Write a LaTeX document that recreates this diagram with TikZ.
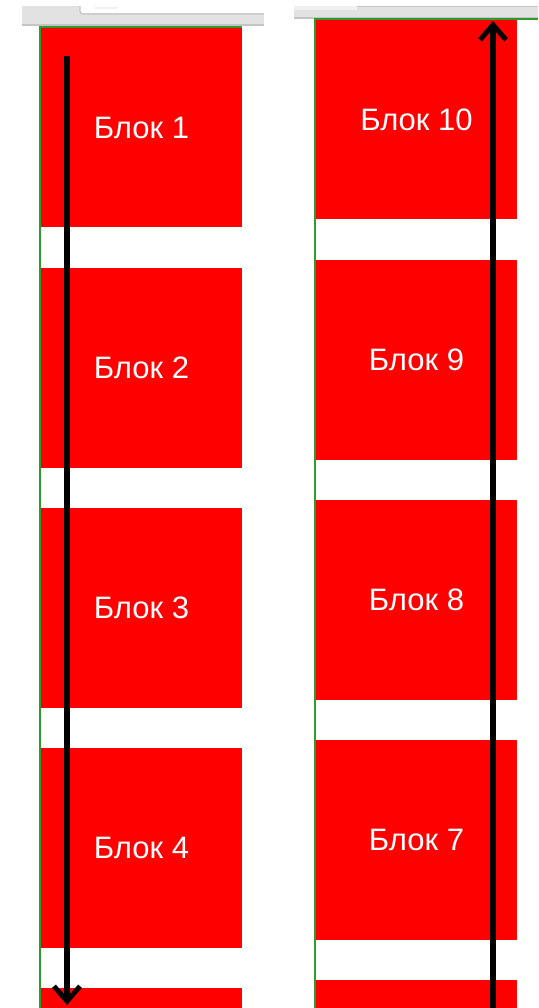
\documentclass[tikz,border=0pt]{standalone}
\usepackage{fontspec}
\setmainfont{Liberation Sans}
\usetikzlibrary{arrows.meta}
\definecolor{BlockRed}{HTML}{FF0000}
\definecolor{FrameGreen}{HTML}{2E9B2E}
\definecolor{BarGray}{HTML}{E2E2E2}
\definecolor{BarEdge}{HTML}{C4C4C4}
\definecolor{BarLight}{HTML}{F0F0F0}

\tikzset{
    block/.style={rectangle, fill=BlockRed, draw=none, inner sep=0pt,
        minimum width=201pt, minimum height=200pt, text=white,
        font=\fontsize{31}{36}\selectfont},
    scrollarrow/.style={line width=5.5pt, -{Straight Barb[length=15pt, width=26pt, line width=5pt]}}
}

\begin{document}
\begin{tikzpicture}[x=1pt, y=-1pt]
    \useasboundingbox (0,0) rectangle (538,1008);
    \fill[white] (0,0) rectangle (538,1008);

    % ========== LEFT: SCROLL DOWN ==========
    \begin{scope}
        % Window bar
        \fill[BarGray] (22,6) rectangle (264,25);
        \fill[white] (80,6) rectangle (264,13);
        \draw[BarEdge, line width=1.2pt] (80,6) -- (80,11) arc (180:90:3) -- (264,14);
        \fill[BarLight] (95,7) rectangle (118,9);
        \draw[BarEdge, line width=1.2pt] (22,25) -- (264,25);

        % Blocks
        \node[block] (blk1) at (141.5,127.5) {Блок 1};
        \node[block] (blk2) at (141.5,368) {Блок 2};
        \node[block] (blk3) at (141.5,608) {Блок 3};
        \node[block] (blk4) at (141.5,848) {Блок 4};
        \fill[BlockRed] (41,988) rectangle (242,1008);

        % Frame edge
        \draw[FrameGreen, line width=1.5pt] (40,27) -- (242,27);
        \draw[FrameGreen, line width=1.5pt] (40,26) -- (40,1008);

        % Direction
        \coordinate (downStart) at (67,56);
        \coordinate (downEnd) at (67,1005);
        \draw[scrollarrow] (downStart) -- (downEnd);
    \end{scope}

    % ========== RIGHT: SCROLL UP ==========
    \begin{scope}
        % Window bar
        \fill[BarGray] (294,6) rectangle (538,18);
        \fill[BarLight] (294,6) rectangle (357,10);
        \draw[BarEdge, line width=1pt] (357,6.5) -- (538,6.5);
        \draw[BarEdge, line width=1.2pt] (294,18) -- (538,18);

        % Blocks
        \node[block] (blk10) at (416.5,119.5) {Блок 10};
        \node[block] (blk9) at (416.5,360) {Блок 9};
        \node[block] (blk8) at (416.5,600) {Блок 8};
        \node[block] (blk7) at (416.5,840) {Блок 7};
        \fill[BlockRed] (316,980) rectangle (517,1008);

        % Frame edge
        \draw[FrameGreen, line width=1.5pt] (315,19) -- (538,19);
        \draw[FrameGreen, line width=1.5pt] (315,18) -- (315,1008);

        % Direction
        \coordinate (upStart) at (493,1008);
        \coordinate (upEnd) at (493,21);
        \draw[scrollarrow] (upStart) -- (upEnd);
    \end{scope}

\end{tikzpicture}
\end{document}
